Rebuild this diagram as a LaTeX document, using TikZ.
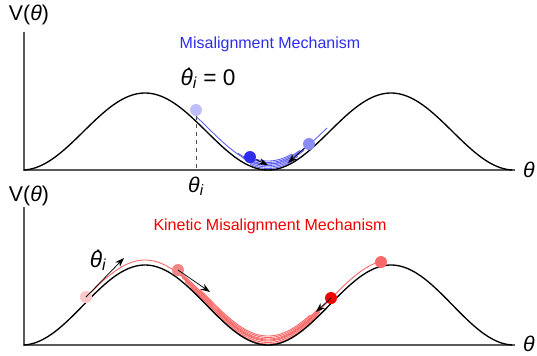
\documentclass[tikz,border=0pt]{standalone}
\usepackage{fontspec}
\setmainfont{Liberation Sans}
\usetikzlibrary{arrows.meta}
\definecolor{bluetraj}{RGB}{95,95,250}
\definecolor{bluelight}{RGB}{190,190,250}
\definecolor{bluemid}{RGB}{140,140,245}
\definecolor{bluedark}{RGB}{45,45,235}
\definecolor{redtraj}{RGB}{248,100,100}
\definecolor{redlight}{RGB}{250,200,200}
\definecolor{redmid}{RGB}{240,135,135}
\definecolor{redsalmon}{RGB}{248,105,105}
\definecolor{reddark}{RGB}{240,0,0}
\definecolor{axisgray}{RGB}{90,90,90}
\newcommand\thdot{\ooalign{\textit{θ}\cr\hidewidth\kern0.2em\raisebox{0.66em}{.}\hidewidth\cr}}
\begin{document}
\begin{tikzpicture}[x=0.75pt,y=-0.75pt,
  declare function={vt(\t)=131.5+38.5*cos(((\t-268)/246)*360);
                    vb(\t)=305+40*cos(((\t-268)/246)*360);},
  pot/.style={black, line width=1pt},
  axisline/.style={axisgray, line width=0.8pt},
  ball/.style={circle, inner sep=0pt, minimum size=9pt},
  arr/.style={black, line width=0.55pt, -{Stealth[length=7pt,width=5pt]}},
  btraj/.style={bluetraj, line width=0.65pt},
  rtraj/.style={redtraj, line width=0.65pt},
  lab/.style={inner sep=0pt, font=\fontsize{16}{18}\selectfont},
  biglab/.style={inner sep=0pt, font=\fontsize{17}{19}\selectfont},
  axlab/.style={inner sep=0pt, font=\fontsize{16}{18}\selectfont\itshape},
  ttl/.style={inner sep=0pt, font=\fontsize{12}{14}\selectfont}
]
\useasboundingbox (0,0) rectangle (537,355);

% ===== top panel =====
\coordinate (tO) at (24,170);
\coordinate (tY) at (24,32);
\coordinate (tX) at (515,170);
\draw[axisline] (tY) -- (tO) -- (tX);
\node[lab] (tV) at (29,15) {V(\textit{θ})};
\node[axlab] (tth) at (529,170) {θ};
\node[ttl, text=bluedark] (ttitle) at (270,44) {Misalignment Mechanism};

% trajectories
\draw[btraj] plot[domain=196:262, samples=40] ({\x},{vt(\x)-5});
\foreach \d/\a/\b in {1.5/250/292, 3/246/298, 4.5/242/304, 6/238/310, 7.5/250/300, 9/256/292}{
  \draw[btraj] plot[domain=\a:\b, samples=40] ({\x},{vt(\x)-\d});
}
\draw[btraj] plot[domain=266:327, samples=40] ({\x},{vt(\x)-6});

\draw[pot] plot[domain=24:512, samples=200] ({\x},{vt(\x)});

\coordinate (tdtop) at (196,116);
\coordinate (tdbot) at (196,170);
\draw[black!70, dashed, line width=0.6pt] (tdtop) -- (tdbot);
\node[lab] (tthi) at (196,186) {\textit{θ\textsubscript{i}}};
\node[biglab] (tthd) at (208,79) {\thdot\textit{\textsubscript{i}} = 0};

\node[ball, fill=bluelight] (b1) at (196,110) {};
\node[ball, fill=bluedark] (b2) at (250,157) {};
\node[ball, fill=bluemid] (b3) at (309,144) {};
\coordinate (b2e) at (268,165);
\coordinate (b3e) at (288,163);
\draw[arr] (b2) -- (b2e);
\draw[arr] (b3) -- (b3e);

% ===== bottom panel =====
\coordinate (bO) at (24,345);
\coordinate (bY) at (24,207);
\coordinate (bX) at (515,345);
\draw[axisline] (bY) -- (bO) -- (bX);
\node[lab] (bV) at (29,196) {V(\textit{θ})};
\node[axlab] (bth) at (529,344) {θ};
\node[ttl, text=reddark] (btitle) at (270,226) {Kinetic Misalignment Mechanism};

\draw[rtraj] plot[domain=86:381, samples=150] ({\x},{vb(\x)-5});
\foreach \d/\a/\b in {1/190/318, 2.5/185/320, 4/182/322, 6/180/325, 7.5/178/320, 9/200/310}{
  \draw[rtraj] plot[domain=\a:\b, samples=60] ({\x},{vb(\x)-\d});
}

\draw[pot] plot[domain=24:512, samples=200] ({\x},{vb(\x)});

\node[biglab] (bthd) at (98,261) {\thdot\textit{\textsubscript{i}}};

\node[ball, fill=redlight] (r1) at (86,297) {};
\node[ball, fill=redmid] (r2) at (178,270) {};
\node[ball, fill=reddark] (r3) at (331,298) {};
\node[ball, fill=redsalmon] (r4) at (381,262) {};
\coordinate (r1e) at (124,258);
\coordinate (r2e) at (210,292);
\coordinate (r3e) at (316,312);
\draw[arr] (r1.center) -- (r1e);
\draw[arr] (r2.center) -- (r2e);
\draw[arr] (r3.center) -- (r3e);
\end{tikzpicture}
\end{document}
